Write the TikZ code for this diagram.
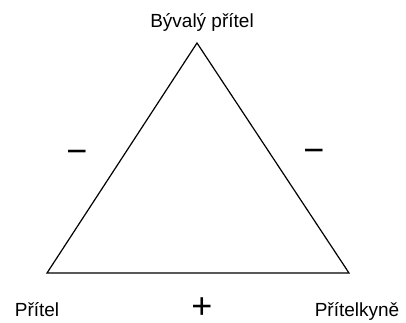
\documentclass[tikz,border=0pt]{standalone}
\usepackage{fontspec}
\setmainfont{Liberation Sans}
\begin{document}
\begin{tikzpicture}[x=1pt,y=-1pt,
  lbl/.style={inner sep=0pt,anchor=base,font=\fontsize{19}{22}\selectfont},
  sgn/.style={inner sep=0pt,anchor=base,text depth=0pt,text height=20pt,font=\fontsize{36}{40}\selectfont},
  edge/.style={line width=1.2pt,line join=miter}]
\useasboundingbox[fill=white] (0,0) rectangle (406,323);
\coordinate (top) at (197,43);
\coordinate (bl) at (47,273);
\coordinate (br) at (349,273);
\draw[edge] (top) -- (bl) -- (br) -- cycle;
\node[lbl] (ex) at (202,28) {Bývalý přítel};
\node[lbl] (fr) at (37,316) {Přítel};
\node[lbl] (gf) at (357,316) {Přítelkyně};
\node[sgn] (pl) at (202,318) {+};
\node[sgn] (ml) at (77,164) {−};
\node[sgn] (mr) at (314,162) {−};
\end{tikzpicture}
\end{document}
